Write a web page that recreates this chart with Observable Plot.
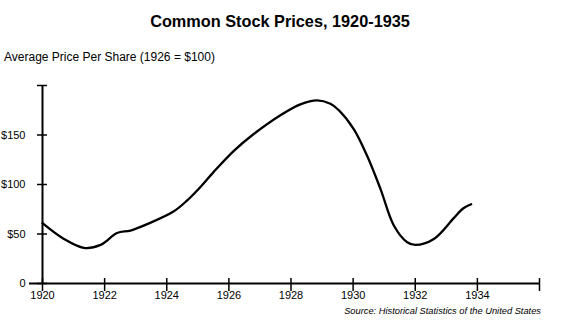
<!DOCTYPE html>
<html><head><meta charset="utf-8">
<script src="https://cdn.jsdelivr.net/npm/d3@7"></script>
<script src="https://cdn.jsdelivr.net/npm/@observablehq/plot@0.6"></script>
<style>
body{margin:0;background:#fff;font-family:"Liberation Sans",Arial,sans-serif;color:#000}
#wrap{position:relative;width:580px;height:327px;overflow:hidden}
#title{position:absolute;top:1px;left:0;width:560px;text-align:center;font-weight:bold;font-size:16.3px;line-height:40px}
#sub{position:absolute;top:40px;left:4px;font-size:12px;line-height:34px}
#chart{position:absolute;top:75px;left:0}
#cap{position:absolute;top:305px;right:39px;font-size:9.3px;font-style:italic;line-height:12px}
</style></head>
<body><div id="wrap">
<div id="title">Common Stock Prices, 1920-1935</div>
<div id="sub">Average Price Per Share (1926 = $100)</div>
<div id="chart"></div>
<div id="cap">Source: Historical Statistics of the United States</div>
</div>
<script>
const years = [1920, 1920.69, 1921.33, 1921.87, 1922.4, 1922.83, 1923.37, 1924.23, 1924.66, 1925.1, 1925.52, 1926.16, 1926.8, 1927.66, 1928.3, 1928.84, 1929.27, 1929.54, 1930.02, 1930.45, 1930.88, 1931.31, 1931.74, 1932.0, 1932.6, 1933.24, 1933.55, 1933.8];
const prices = [61, 45, 36, 39, 51, 53.5, 60, 73, 84, 98, 113, 134, 151, 170, 181, 185, 181.5, 175, 156, 129, 95.6, 58.6, 41.7, 39, 45, 66, 76, 80];
const xTickYears = [1920, 1922, 1924, 1926, 1928, 1930, 1932, 1934, 1936];
const xLabelYears = [1920, 1922, 1924, 1926, 1928, 1930, 1932, 1934];
const yTicks = [0, 50, 100, 150, 200];
const yLabels = [0, 50, 100, 150];

const data = years.map((y, i) => ({year: y, price: prices[i]}));
const font = '"Liberation Sans", Arial, sans-serif';

const chart = Plot.plot({
  width: 580, height: 230,
  marginTop: 10, marginBottom: 22, marginLeft: 42, marginRight: 41,
  style: {fontFamily: font, fontSize: "11px", color: "#000", background: "#fff"},
  x: {domain: [1920, 1936], axis: null},
  y: {domain: [0, 200], axis: null},
  marks: [
    Plot.axisX(xLabelYears, {tickSize: 0, tickPadding: 8, tickFormat: d => String(d), fontSize: 11, fill: "#000", label: null}),
    Plot.axisY(yLabels, {tickSize: 0, tickPadding: 17, tickFormat: d => d === 0 ? "0" : "$" + d, fontSize: 11, fill: "#000", label: null}),
    Plot.ruleY([0], {x1: 1920, x2: 1936, insetLeft: -13, stroke: "#000", strokeWidth: 2}),
    Plot.ruleX([1920], {y1: 0, y2: 200, stroke: "#000", strokeWidth: 2}),
    Plot.ruleX(xTickYears, {x: d => d, y1: 0, y2: 0, insetTop: -5, insetBottom: -8, stroke: "#000", strokeWidth: 1.5}),
    Plot.ruleY(yTicks, {y: d => d, x1: 1920, x2: 1920, insetLeft: -5, insetRight: -5, stroke: "#000", strokeWidth: 1.5}),
    Plot.line(data, {x: "year", y: "price", curve: "catmull-rom", stroke: "#000", strokeWidth: 2.3})
  ]
});
document.getElementById("chart").appendChild(chart);
</script>
</body></html>
